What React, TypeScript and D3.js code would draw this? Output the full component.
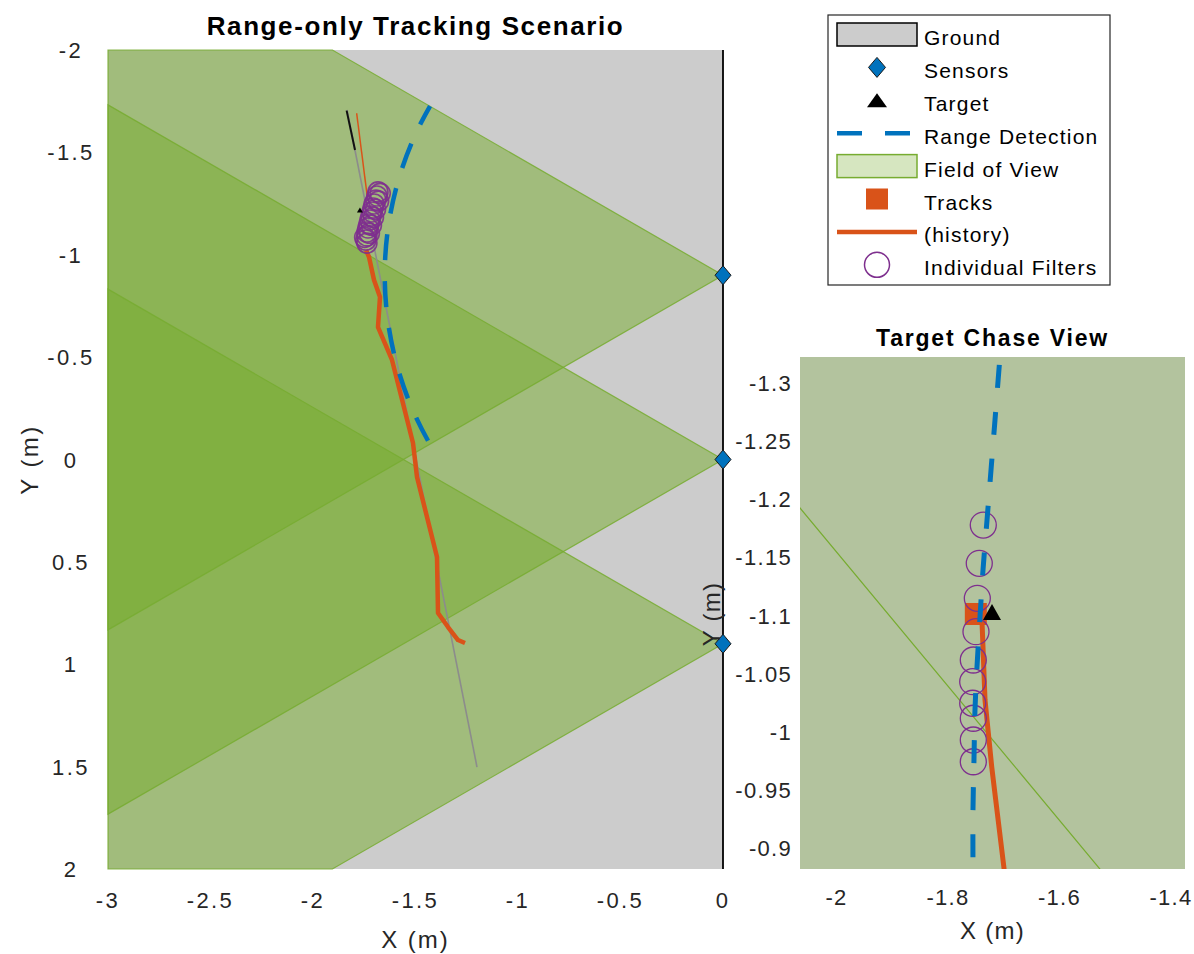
import React from 'react';
import * as d3 from 'd3';

// ---------- data ----------
const MAIN_X_TICKS = [-3, -2.5, -2, -1.5, -1, -0.5, 0];
const MAIN_Y_TICKS = [-2, -1.5, -1, -0.5, 0, 0.5, 1, 1.5, 2];
const CHASE_X_TICKS = [-2, -1.8, -1.6, -1.4];
const CHASE_Y_TICKS = [-1.3, -1.25, -1.2, -1.15, -1.1, -1.05, -1, -0.95, -0.9];

const sensorX = [0, 0, 0];
const sensorY = [-0.9, 0, 0.9];
const FOV_HALF_DEG = 30;
const FOV_RANGE = 6;
const detectionSensorIndex = 0;
const detectionRange = 1.65;

// target truth trajectory (gray) and recent target tail (black)
const truthX = [-1.834, -1.2];
const truthY = [-1.707, 1.502];
const tailX = [-1.836, -1.795];
const tailY = [-1.704, -1.512];
// thin track line
const trackLineX = [-1.787, -1.736];
const trackLineY = [-1.691, -1.29];
// track history (thick orange)
const histX = [-1.7415, -1.7268, -1.7024, -1.6732, -1.6829, -1.6146, -1.5122, -1.5024, -1.4927, -1.3951, -1.3902, -1.3415, -1.2927, -1.2585];
const histY = [-1.0232, -0.989, -0.8767, -0.7937, -0.6471, -0.486, -0.0806, 0.0024, 0.0855, 0.4762, 0.7497, 0.8181, 0.8816, 0.8962];
// individual filters (main view)
const filterX = [-1.683, -1.672, -1.688, -1.693, -1.680, -1.702, -1.707, -1.695, -1.712, -1.717, -1.705, -1.722, -1.727, -1.715, -1.732, -1.737, -1.725, -1.737, -1.742, -1.737, -1.748];
const filterY = [-1.307, -1.300, -1.287, -1.267, -1.262, -1.248, -1.228, -1.222, -1.209, -1.189, -1.183, -1.170, -1.150, -1.144, -1.131, -1.111, -1.105, -1.092, -1.072, -1.057, -1.085];
const targetMainX = -1.771;
const targetMainY = -1.219;

// chase view
const chaseDetX = [-1.705, -1.7067, -1.7157, -1.73, -1.7372, -1.7426, -1.748, -1.7516, -1.7534, -1.7552, -1.7552, -1.7552];
const chaseDetY = [-1.33, -1.3224, -1.2682, -1.1822, -1.1391, -1.0987, -1.0557, -1.0187, -0.9757, -0.9327, -0.8819, -0.87];
const chaseFilterX = [-1.7367, -1.7439, -1.7474, -1.7498, -1.7546, -1.7557, -1.7557, -1.7546, -1.7546, -1.7546];
const chaseFilterY = [-1.1778, -1.1449, -1.1148, -1.0861, -1.0617, -1.0431, -1.0245, -1.0116, -0.9929, -0.9742];
const chaseHistX = [-1.7396, -1.7336, -1.7216, -1.7144, -1.6996, -1.6978];
const chaseHistY = [-1.1022, -1.0273, -0.9699, -0.9413, -0.8828, -0.8725];
const chaseTrackX = -1.7501;
const chaseTrackY = -1.1013;
const chaseTargetX = -1.7211;
const chaseTargetY = -1.103;

const LEGEND_LABELS = ['Ground', 'Sensors', 'Target', 'Range Detection', 'Field of View', 'Tracks', '(history)', 'Individual Filters'];

// ---------- style ----------
const FONT = '"Liberation Sans", Arial, Helvetica, sans-serif';
const C_BLUE = '#0072bd';
const C_ORANGE = '#d95319';
const C_PURPLE = '#7e2f8e';
const C_GREEN = '#77ac30';
const C_GROUND = '#cccccc';
const C_TEXT = '#262626';

type P = [number, number];

function clipRect(poly: P[], x0: number, x1: number, y0: number, y1: number): P[] {
  const planes: [(p: P) => boolean, (a: P, b: P) => P][] = [
    [p => p[0] >= x0, (a, b) => { const t = (x0 - a[0]) / (b[0] - a[0]); return [x0, a[1] + t * (b[1] - a[1])]; }],
    [p => p[0] <= x1, (a, b) => { const t = (x1 - a[0]) / (b[0] - a[0]); return [x1, a[1] + t * (b[1] - a[1])]; }],
    [p => p[1] >= y0, (a, b) => { const t = (y0 - a[1]) / (b[1] - a[1]); return [a[0] + t * (b[0] - a[0]), y0]; }],
    [p => p[1] <= y1, (a, b) => { const t = (y1 - a[1]) / (b[1] - a[1]); return [a[0] + t * (b[0] - a[0]), y1]; }],
  ];
  let out = poly;
  for (const [ins, inter] of planes) {
    const inp = out;
    out = [];
    for (let i = 0; i < inp.length; i++) {
      const cur = inp[i];
      const prev = inp[(i + inp.length - 1) % inp.length];
      if (ins(cur)) {
        if (!ins(prev)) out.push(inter(prev, cur));
        out.push(cur);
      } else if (ins(prev)) out.push(inter(prev, cur));
    }
  }
  return out;
}

const zip = (xs: number[], ys: number[]): P[] => xs.map((x, i) => [x, ys[i]] as P);

function diamond(x: number, y: number, hw: number, hh: number) {
  return `M${x},${y - hh}L${x + hw},${y}L${x},${y + hh}L${x - hw},${y}Z`;
}
function triangle(x: number, y: number, w: number, h: number) {
  return `M${x},${y - h / 2}L${x + w / 2},${y + h / 2}L${x - w / 2},${y + h / 2}Z`;
}

export default function App() {
  const W = 1194, H = 954;
  // main axes
  const MX0 = 108, MX1 = 723, MY0 = 50, MY1 = 869;
  const mx = d3.scaleLinear().domain([-3, 0]).range([MX0, MX1]);
  const my = d3.scaleLinear().domain([-2, 2]).range([MY0, MY1]);
  // chase axes
  const CX0 = 800, CX1 = 1185, CY0 = 357, CY1 = 869;
  const cx = d3.scaleLinear().domain([-2, -1.4]).range([836.5, 1171]);
  const cy = d3.scaleLinear().domain([-1.3, -0.9]).range([383, 848]);

  const half = (FOV_HALF_DEG * Math.PI) / 180;
  const wedges: P[][] = sensorX.map((sx, i) => {
    const sy = sensorY[i];
    return [
      [sx, sy],
      [sx - FOV_RANGE * Math.cos(half), sy - FOV_RANGE * Math.sin(half)],
      [sx - FOV_RANGE * Math.cos(half), sy + FOV_RANGE * Math.sin(half)],
    ] as P[];
  });
  const mainWedges = wedges.map(w => clipRect(w, -3, 0, -2, 2));

  const mLine = d3.line<P>().x(d => mx(d[0])).y(d => my(d[1]));
  const cLine = d3.line<P>().x(d => cx(d[0])).y(d => cy(d[1]));
  const cCurve = d3.line<P>().x(d => cx(d[0])).y(d => cy(d[1])).curve(d3.curveCatmullRom);

  // range detection arc (main)
  const arcPath = d3.path();
  const dsx = mx(sensorX[detectionSensorIndex]);
  const dsy = my(sensorY[detectionSensorIndex]);
  const rPix = mx(detectionRange) - mx(0);
  arcPath.arc(dsx, dsy, rPix, Math.PI + half, Math.PI - half, true);

  const legX0 = 828, legY0 = 15, legW = 282, legH = 270;
  const rowC = (i: number) => 34.5 + i * 32.9;
  const iconX = 877;

  return (
    <svg width={W} height={H} viewBox={`0 0 ${W} ${H}`} style={{ position: 'absolute', left: 0, top: 0, background: '#fff' }} fontFamily={FONT}>
      <defs>
        <clipPath id="mainClip"><rect x={MX0} y={MY0} width={MX1 - MX0} height={MY1 - MY0} /></clipPath>
        <clipPath id="chaseClip"><rect x={CX0} y={CY0} width={CX1 - CX0} height={CY1 - CY0} /></clipPath>
      </defs>
      <rect x={0} y={0} width={W} height={H} fill="#fff" />

      {/* ===== main axes ===== */}
      <rect x={MX0} y={MY0} width={MX1 - MX0} height={MY1 - MY0} fill={C_GROUND} />
      <g>
        {mainWedges.map((w, i) => (
          <path key={'wf' + i} d={mLine(w)! + 'Z'} fill={C_GREEN} fillOpacity={0.51} stroke="none" />
        ))}
        {mainWedges.map((w, i) => (
          <path key={'we' + i} d={mLine(w)! + 'Z'} fill="none" stroke={C_GREEN} strokeWidth={1.2} strokeOpacity={0.85} />
        ))}
      </g>
      <g clipPath="url(#mainClip)">
        <path d={mLine(zip(truthX, truthY))!} fill="none" stroke="#8c8c8c" strokeWidth={1.6} />
        <path d={mLine(zip(tailX, tailY))!} fill="none" stroke="#111" strokeWidth={2} />
        <path d={mLine(zip(trackLineX, trackLineY))!} fill="none" stroke={C_ORANGE} strokeWidth={1.5} />
        <path d={mLine(zip(histX, histY))!} fill="none" stroke={C_ORANGE} strokeWidth={4.5} strokeLinejoin="round" />
        <path d={arcPath.toString()} fill="none" stroke={C_BLUE} strokeWidth={4.5} strokeDasharray="26 21" strokeDashoffset={5} />
        {filterX.map((x, i) => (
          <circle key={'f' + i} cx={mx(x)} cy={my(filterY[i])} r={10} fill="none" stroke={C_PURPLE} strokeWidth={1.6} strokeOpacity={0.9} />
        ))}
        <path d={triangle(mx(targetMainX), my(targetMainY), 6, 5)} fill="#000" />
      </g>
      <line x1={mx(0)} x2={mx(0)} y1={MY0} y2={MY1} stroke="#000" strokeWidth={1.8} />
      {sensorX.map((x, i) => (
        <path key={'s' + i} d={diamond(mx(x), my(sensorY[i]), 8, 9.5)} fill={C_BLUE} stroke="#1a1a1a" strokeWidth={1} />
      ))}

      {/* main ticks */}
      {MAIN_X_TICKS.map(t => (
        <text key={'mx' + t} x={mx(t)} y={908} textAnchor="middle" fontSize={22} letterSpacing={2.4} fill={C_TEXT}>{String(t)}</text>
      ))}
      {MAIN_Y_TICKS.map(t => (
        <text key={'my' + t} x={71} y={my(t) + 8} textAnchor="middle" fontSize={22} letterSpacing={2.4} fill={C_TEXT}>{String(t)}</text>
      ))}
      <text x={(MX0 + MX1) / 2} y={948} textAnchor="middle" fontSize={24} letterSpacing={2} fill={C_TEXT}>X (m)</text>
      <text transform={`translate(38,${(MY0 + MY1) / 2}) rotate(-90)`} textAnchor="middle" fontSize={24} letterSpacing={2.5} fill={C_TEXT}>Y (m)</text>
      <text x={(MX0 + MX1) / 2} y={35} textAnchor="middle" fontSize={26} fontWeight="bold" letterSpacing={1.6} fill="#000">Range-only Tracking Scenario</text>

      {/* ===== chase axes ===== */}
      <rect x={CX0} y={CY0} width={CX1 - CX0} height={CY1 - CY0} fill="#b3c39e" />
      <g clipPath="url(#chaseClip)">
        {wedges.map((w, i) => (
          <path key={'cw' + i} d={cLine(w)! + 'Z'} fill="none" stroke={C_GREEN} strokeWidth={1.2} />
        ))}
        <path d={cLine(zip(chaseHistX, chaseHistY))!} fill="none" stroke={C_ORANGE} strokeWidth={5} />
        <rect x={cx(chaseTrackX) - 11} y={cy(chaseTrackY) - 11} width={22} height={22} fill={C_ORANGE} />
        <path d={triangle(cx(chaseTargetX), cy(chaseTargetY), 18, 16)} fill="#000" />
        {chaseFilterX.map((x, i) => (
          <circle key={'cf' + i} cx={cx(x)} cy={cy(chaseFilterY[i])} r={13} fill="none" stroke={C_PURPLE} strokeWidth={1.3} />
        ))}
        <path d={cCurve(zip(chaseDetX, chaseDetY))!} fill="none" stroke={C_BLUE} strokeWidth={5} strokeDasharray="23 24" strokeDashoffset={30} />
      </g>
      {CHASE_X_TICKS.map(t => (
        <text key={'cx' + t} x={cx(t)} y={905} textAnchor="middle" fontSize={22} letterSpacing={1.3} fill={C_TEXT}>{String(t)}</text>
      ))}
      {CHASE_Y_TICKS.map(t => (
        <text key={'cy' + t} x={792} y={cy(t) + 8} textAnchor="end" fontSize={22} letterSpacing={1.3} fill={C_TEXT}>{String(t)}</text>
      ))}
      <text x={(CX0 + CX1) / 2} y={939} textAnchor="middle" fontSize={24} letterSpacing={1.3} fill={C_TEXT}>X (m)</text>
      <text transform={`translate(720,${614}) rotate(-90)`} textAnchor="middle" fontSize={24} letterSpacing={1.3} fill={C_TEXT}>Y (m)</text>
      <text x={(CX0 + CX1) / 2} y={346} textAnchor="middle" fontSize={23} fontWeight="bold" letterSpacing={1.8} fill="#000">Target Chase View</text>

      {/* ===== legend ===== */}
      <rect x={legX0} y={legY0} width={legW} height={legH} fill="#fff" stroke={C_TEXT} strokeWidth={1.2} />
      <rect x={837} y={rowC(0) - 11.5} width={80} height={23} fill={C_GROUND} stroke="#000" strokeWidth={1.5} />
      <path d={diamond(iconX, rowC(1), 8.5, 10)} fill={C_BLUE} stroke="#1a1a1a" strokeWidth={1} />
      <path d={triangle(iconX, rowC(2), 20, 14)} fill="#000" />
      <line x1={837} x2={917} y1={rowC(3)} y2={rowC(3)} stroke={C_BLUE} strokeWidth={4.5} strokeDasharray="25 23" />
      <rect x={837} y={rowC(4) - 11.5} width={80} height={23} fill={C_GREEN} fillOpacity={0.3} stroke={C_GREEN} strokeWidth={1.5} />
      <rect x={iconX - 11} y={rowC(5) - 10.5} width={22} height={21} fill={C_ORANGE} />
      <line x1={837} x2={917} y1={rowC(6)} y2={rowC(6)} stroke={C_ORANGE} strokeWidth={4.5} />
      <circle cx={iconX} cy={rowC(7)} r={12.5} fill="none" stroke={C_PURPLE} strokeWidth={1.5} />
      {LEGEND_LABELS.map((l, i) => (
        <text key={'l' + i} x={924} y={rowC(i) + 10.5} fontSize={21} letterSpacing={1.2} fill="#000">{l}</text>
      ))}
    </svg>
  );
}
